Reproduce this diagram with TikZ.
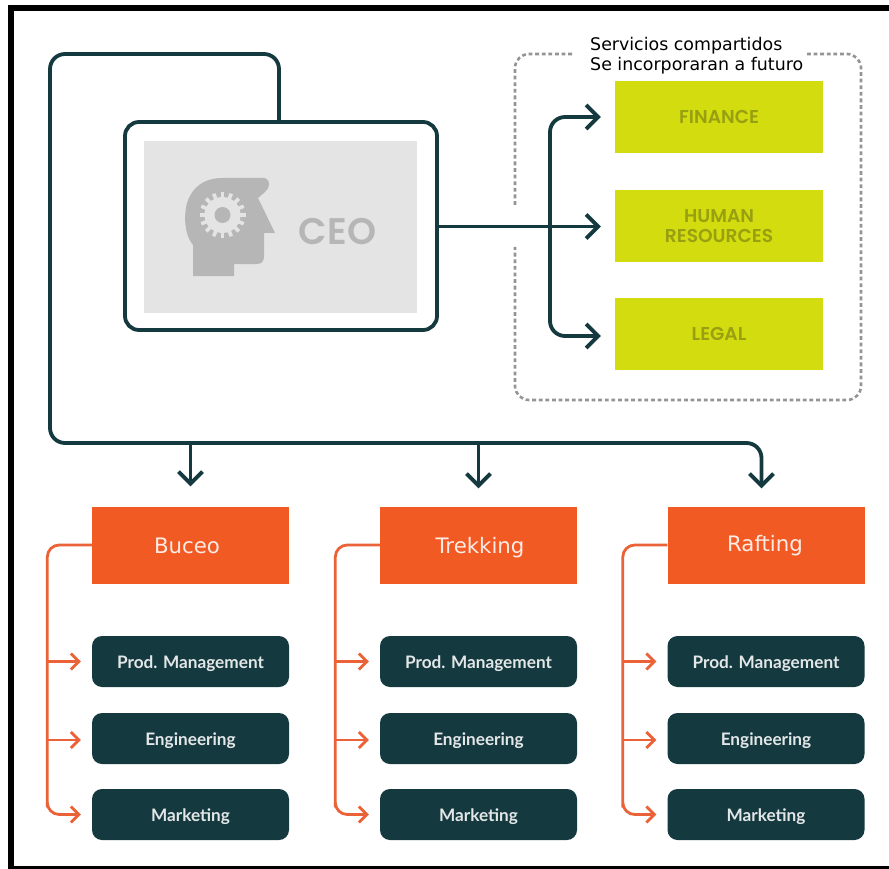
\documentclass[tikz,border=0pt]{standalone}
\usepackage{fontspec}
\setmainfont{DejaVu Sans}
\newfontfamily\labelfont{Lato}
\newfontfamily\capsfont{Poppins SemiBold}
\usetikzlibrary{arrows.meta}
\usetikzlibrary{positioning}
\definecolor{deepteal}{HTML}{14393F}
\definecolor{limebox}{HTML}{D3DC0E}
\definecolor{limetext}{HTML}{98A012}
\definecolor{orangebox}{HTML}{F25A24}
\definecolor{orangewire}{HTML}{EB6238}
\definecolor{ceopanel}{HTML}{E4E4E4}
\definecolor{ceogrey}{HTML}{B6B6B6}
\tikzset{
  x=1pt, y=-1pt,
  tealline/.style={draw=deepteal, line width=3.8pt, rounded corners=15pt},
  tealarrow/.style={tealline, -{Straight Barb[length=12pt,width=24pt,line width=3.8pt]}},
  orangeline/.style={draw=orangewire, line width=2.8pt, rounded corners=12pt},
  orangearrow/.style={orangeline, -{Straight Barb[length=8pt,width=16pt,line width=2.8pt]}},
  sharedbox/.style={fill=limebox, minimum width=208pt, minimum height=72pt, inner sep=0pt,
    text=limetext, align=center, font=\capsfont\fontsize{18.6}{20.5}\selectfont},
  linebox/.style={fill=orangebox, minimum width=197pt, minimum height=77pt, inner sep=0pt},
  linetext/.style={text=white!88!orangebox, inner sep=0pt, anchor=base, font=\fontsize{21.3}{24}\selectfont},
  teambox/.style={fill=deepteal, rounded corners=10pt, minimum width=197pt, minimum height=51pt,
    inner sep=0pt, text height=13pt, text depth=0pt, text=white!88!deepteal,
    font=\labelfont\bfseries\fontsize{17.2}{20}\selectfont},
}
\begin{document}
\begin{tikzpicture}
\useasboundingbox (0,0) rectangle (889,869);
\fill[white] (0,0) rectangle (889,869);
% frame
\draw[black, line width=6pt] (8,8.5) -- (889,8.5);
\draw[black, line width=6pt] (11,5.5) -- (11,869);
\draw[black, line width=3pt] (8,867.5) -- (889,867.5);

% shared services
\draw[draw=black!42, line width=2.6pt, dash pattern=on 3.8pt off 2.8pt, rounded corners=14pt]
  (572,54) -- (515,54) -- (515,207);
\draw[draw=black!42, line width=2.6pt, dash pattern=on 3.8pt off 2.8pt, rounded corners=14pt]
  (807,54) -- (861,54) -- (861,400) -- (515,400) -- (515,247);
\node[sharedbox] (finance) at (719,117) {FINANCE};
\node[sharedbox] (human) at (719,226) {HUMAN\\RESOURCES};
\node[sharedbox] (legal) at (719,334) {LEGAL};
\node[anchor=north west, inner sep=0pt, align=left, font=\fontsize{17.4}{20}\selectfont] (shared) at (590,37)
  {Servicios compartidos\\Se incorporaran a futuro};

% ceo
\node[draw=deepteal, line width=3.8pt, fill=white, rounded corners=14pt, minimum width=312pt, minimum height=208pt, inner sep=0pt] (ceo) at (281,226) {};
\node[fill=ceopanel, minimum width=273pt, minimum height=172pt, inner sep=0pt] (panel) at (280.5,227) {};
\fill[ceogrey] (193,276) -- (193,245) .. controls (182,232) and (184,205) .. (190,196) .. controls (196,184) and (208,178) .. (222,178) -- (265,178) .. controls (271,180) and (270,188) .. (265,192) -- (258,198) -- (275,233) -- (264,233) -- (264,255) .. controls (264,262) and (262,264) .. (256,264) -- (234,264) -- (234,276) -- cycle;
\fill[ceopanel] (222.5,215) circle (18pt);
\foreach \a in {0,22.5,...,337.5}
  \fill[ceopanel] (222.5,215) ++(\a:-16pt) ++(\a+90:1.8pt) -- ++(\a:-7pt) -- ++(\a-90:3.6pt) -- ++(\a:7pt) -- cycle;
\fill[ceogrey] (222.5,215) circle (8pt);
\node[text=ceogrey, font=\capsfont\fontsize{37}{37}\selectfont, inner sep=0pt] (ceotext) at (337.5,232) {CEO};

% ceo to services
\coordinate (bus) at (550,226.5);
\draw[tealarrow] (ceo.east) ++(0,0.5) -- ([xshift=-14pt,yshift=-0.5pt]human.west);
\draw[tealarrow] (bus) |- ([xshift=-14pt]finance.west);
\draw[tealarrow] (bus) |- ([xshift=-14pt,yshift=-2pt]legal.west);

% product lines
\foreach \name/\cx/\tx/\ty/\label in {buceo/190.5/187/553/Buceo, trekking/478.5/480/553/Trekking, rafting/766/765/551.5/Rafting}{
  \node[linebox] (\name) at (\cx,545) {};
  \node[linetext] (\name text) at (\tx,\ty) {\label};
  \node[teambox] (\name prod) at (\cx,661.5) {Prod. Management};
  \node[teambox] (\name eng) at (\cx,738.5) {Engineering};
  \node[teambox] (\name mkt) at (\cx,814.5) {Marketing};
  \draw[orangearrow] (\name.west) -| ([xshift=-44.5pt]\name mkt.west) |- ([xshift=-11pt]\name mkt.west);
  \draw[orangearrow] ([xshift=-44.5pt]\name prod.west) -- ([xshift=-11pt]\name prod.west);
  \draw[orangearrow] ([xshift=-44.5pt,yshift=-1.5pt]\name eng.west) -- ([xshift=-11pt,yshift=-1.5pt]\name eng.west);
}

% ceo to product lines
\coordinate (spine) at (50,443);
\draw[tealarrow] ([xshift=-2pt]ceo.north) |- (50,54) -- (spine) -| ([xshift=-4.5pt,yshift=18pt]rafting.north);
\draw[tealarrow] (buceo.north |- spine) -- ([yshift=20pt]buceo.north);
\draw[tealarrow] (trekking.north |- spine) -- ([yshift=18pt]trekking.north);
\end{tikzpicture}
\end{document}
